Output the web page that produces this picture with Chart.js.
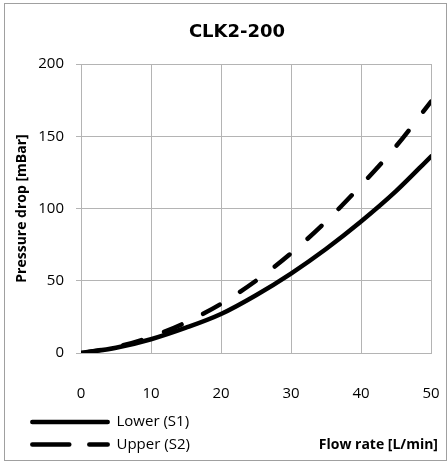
<!DOCTYPE html>
<html>
<head>
<meta charset="utf-8">
<script src="https://cdn.jsdelivr.net/npm/chart.js@4.4.1/dist/chart.umd.min.js"></script>
<style>
  html, body { margin: 0; padding: 0; background: #ffffff; }
  #wrap { position: relative; width: 448px; height: 463px; }
  canvas { display: block; }
</style>
</head>
<body>
<div id="wrap"><canvas id="c" width="448" height="463"></canvas></div>
<script>
// ---- data ----
const flowRate = [0, 5, 10, 15, 20, 25, 30, 35, 40, 45, 50];          // L/min
const lowerS1  = [0, 3.6, 9.5, 17.5, 27, 40, 55, 72, 91, 112, 136];    // mBar
const upperS2  = [0, 4.1, 11.2, 21.2, 34, 50, 69, 91, 116, 143, 174];  // mBar
const seriesNames = ['Lower (S1)', 'Upper (S2)'];
const chartTitle = 'CLK2-200';
const xTitle = 'Flow rate [L/min]';
const yTitle = 'Pressure drop [mBar]';
const xTicks = [0, 10, 20, 30, 40, 50];
const yTicks = [0, 50, 100, 150, 200];

const GRID = '#b4b4b4';
const FONT = "'Open Sans', 'Noto Sans', sans-serif";

function toPoints(xs, ys) { return xs.map((x, i) => ({ x: x, y: ys[i] })); }

const decorPlugin = {
  id: 'decor',
  beforeDraw(chart) {
    const ctx = chart.ctx;
    ctx.save();
    ctx.fillStyle = '#ffffff';
    ctx.fillRect(0, 0, chart.width, chart.height);
    ctx.strokeStyle = '#a0a0a0';
    ctx.lineWidth = 1;
    ctx.strokeRect(4.5, 3.5, 442, 457);
    ctx.restore();
  },
  afterDraw(chart) {
    const ctx = chart.ctx;
    ctx.save();
    // title
    ctx.fillStyle = '#000000';
    ctx.font = "bold 18px 'DejaVu Sans', sans-serif";
    ctx.textAlign = 'center';
    ctx.textBaseline = 'middle';
    ctx.fillText(chartTitle, 237, 32);
    // x axis title (sits on the legend row, right side)
    ctx.font = "bold 14px " + FONT;
    ctx.textAlign = 'right';
    ctx.fillText(xTitle, 438, 445);
    // legend
    chart.data.datasets.forEach((ds, i) => {
      const y = 422 + i * 22.5;
      ctx.beginPath();
      ctx.strokeStyle = ds.borderColor;
      ctx.lineWidth = ds.borderWidth;
      ctx.lineCap = 'round';
      ctx.setLineDash(ds.legendDash || []);
      ctx.moveTo(32.3, y);
      ctx.lineTo(107.7, y);
      ctx.stroke();
      ctx.setLineDash([]);
      ctx.font = "15px " + FONT;
      ctx.textAlign = 'left';
      ctx.textBaseline = 'middle';
      ctx.fillStyle = '#000000';
      ctx.fillText(ds.label, 116.5, y);
    });
    ctx.restore();
  }
};

new Chart(document.getElementById('c'), {
  type: 'line',
  data: {
    datasets: [
      {
        label: seriesNames[0],
        data: toPoints(flowRate, lowerS1),
        borderColor: '#000000',
        borderWidth: 4.5,
        borderCapStyle: 'round',
        cubicInterpolationMode: 'monotone',
        pointRadius: 0,
        fill: false,
        legendDash: []
      },
      {
        label: seriesNames[1],
        data: toPoints(flowRate, upperS2),
        borderColor: '#000000',
        borderWidth: 4.5,
        borderCapStyle: 'round',
        borderDash: [19, 24],
        cubicInterpolationMode: 'monotone',
        pointRadius: 0,
        fill: false,
        legendDash: [37, 20]
      }
    ]
  },
  options: {
    responsive: false,
    animation: false,
    devicePixelRatio: 1,
    layout: { padding: { top: 64, left: 5, right: 17, bottom: 4 } },
    plugins: {
      legend: { display: false },
      title: { display: false },
      tooltip: { enabled: false }
    },
    scales: {
      x: {
        type: 'linear',
        min: 0, max: 50,
        afterBuildTicks(scale) { scale.ticks = xTicks.map(v => ({ value: v })); },
        afterFit(scale) {
          scale.height = 463 - 4 - 353;
          scale.paddingLeft = 0; scale.paddingRight = 0;
          scale.paddingTop = 0; scale.paddingBottom = 0;
        },
        grid: { color: GRID, lineWidth: 1, drawTicks: false },
        border: { color: GRID, width: 1 },
        ticks: { color: '#000000', font: { family: FONT, size: 15 }, padding: 32, maxRotation: 0 }
      },
      y: {
        type: 'linear',
        min: 0, max: 200,
        afterBuildTicks(scale) { scale.ticks = yTicks.map(v => ({ value: v })); },
        afterFit(scale) {
          scale.width = 81 - 5;
          scale.paddingLeft = 0; scale.paddingRight = 0;
          scale.paddingTop = 0; scale.paddingBottom = 0;
        },
        grid: { color: GRID, lineWidth: 1, drawTicks: true, tickLength: 5 },
        border: { color: GRID, width: 1 },
        ticks: { color: '#000000', font: { family: FONT, size: 15 }, padding: 12 },
        title: {
          display: true,
          text: yTitle,
          color: '#000000',
          font: { family: FONT, size: 14, weight: 'bold' },
          padding: { top: 9, bottom: 0 }
        }
      }
    }
  },
  plugins: [decorPlugin]
});
</script>
</body>
</html>
